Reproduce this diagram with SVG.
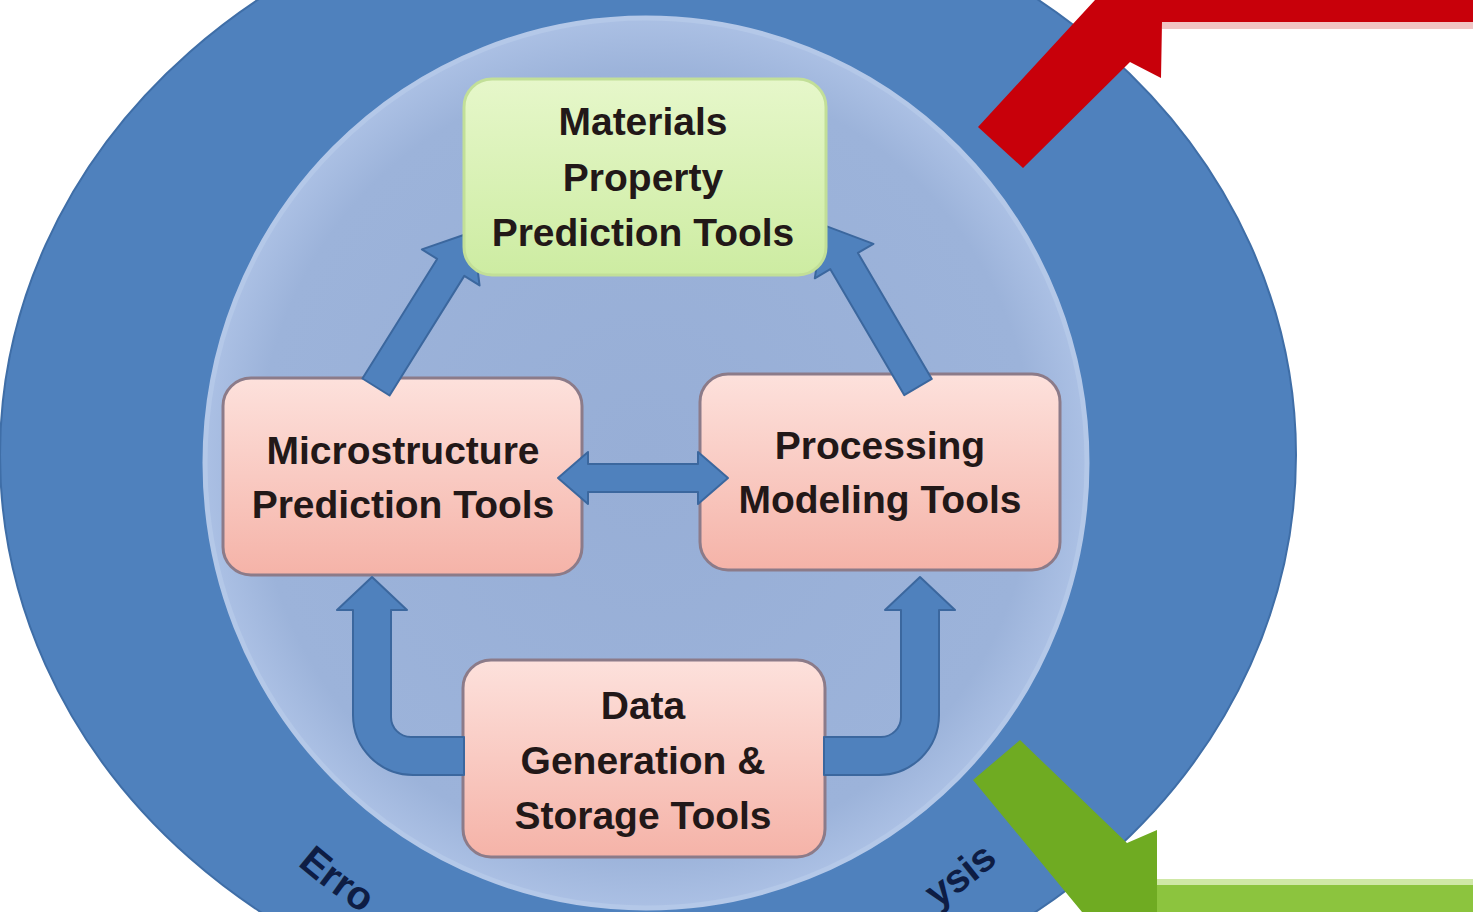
<svg xmlns="http://www.w3.org/2000/svg" width="1473" height="912" viewBox="0 0 1473 912">
<defs>
<radialGradient id="innerFill" cx="0.5" cy="0.5" r="0.5">
<stop offset="0" stop-color="#97aed6"/>
<stop offset="0.88" stop-color="#9cb3da"/>
<stop offset="1" stop-color="#abc0e4"/>
</radialGradient>
<linearGradient id="pinkFill" x1="0" y1="0" x2="0" y2="1">
<stop offset="0" stop-color="#fde1dc"/>
<stop offset="1" stop-color="#f5b3a8"/>
</linearGradient>
<linearGradient id="greenFill" x1="0" y1="0" x2="0" y2="1">
<stop offset="0" stop-color="#e6f7ca"/>
<stop offset="1" stop-color="#cdeca2"/>
</linearGradient>
<path id="ring" d="M 114 463 A 532 532 0 0 0 1178 463"/>
</defs>
<style>
.lbl { font-family: "Liberation Sans", Arial, sans-serif; font-weight: bold; font-size: 39px; text-anchor: middle; fill: #221818; }
.ringtxt { font-family: "Liberation Sans", Arial, sans-serif; font-weight: bold; font-size: 40px; fill: #0e1d44; }
.arrow { fill: #4f81bd; stroke: #3b679e; stroke-width: 2; stroke-linejoin: round; }
.pink { fill: url(#pinkFill); stroke: #8c7b89; stroke-width: 3; }
.green { fill: url(#greenFill); stroke: #c2df98; stroke-width: 3; }
</style>
<rect x="0" y="0" width="1473" height="912" fill="#ffffff"/>
<g id="outer-ring">
<ellipse cx="648" cy="455" rx="648" ry="570" fill="#4f81bd" stroke="#3f6ea7" stroke-width="2"/>
</g>
<g id="inner-circle">
<ellipse cx="646" cy="463" rx="441" ry="445" fill="url(#innerFill)" stroke="#b4c8e8" stroke-width="5"/>
</g>
<g id="ring-labels">
<text class="ringtxt"><textPath href="#ring" startOffset="455">Erro</textPath></text>
<text class="ringtxt" text-anchor="end"><textPath href="#ring" startOffset="1221">ysis</textPath></text>
</g>
<g id="red-arrow">
<polygon points="978,127 1095,0 1473,0 1473,22 1162,22 1161,78 1130,62 1023,168" fill="#c8000a"/>
<rect x="1162" y="22" width="311" height="7" fill="#f1c4c4"/>
</g>
<g id="green-arrow">
<polygon points="973,780 1020,740 1127,843 1157,830 1157,884 1473,884 1473,912 1082,912" fill="#6fab22"/>
<rect x="1157" y="879" width="316" height="6" fill="#cfe8a6"/>
<rect x="1157" y="885" width="316" height="27" fill="#8cc43e"/>
</g>
<g id="microstructure">
<rect class="pink" x="223" y="378" width="359" height="197" rx="28" ry="28"/>
<text class="lbl" x="403" y="464">Microstructure</text>
<text class="lbl" x="403" y="518">Prediction Tools</text>
</g>
<g id="processing">
<rect class="pink" x="700" y="374" width="360" height="196" rx="28" ry="28"/>
<text class="lbl" x="880" y="459">Processing</text>
<text class="lbl" x="880" y="513">Modeling Tools</text>
</g>
<g id="data-storage">
<rect class="pink" x="463" y="660" width="362" height="197" rx="28" ry="28"/>
<text class="lbl" x="643" y="719">Data</text>
<text class="lbl" x="643" y="774">Generation &amp;</text>
<text class="lbl" x="643" y="829">Storage Tools</text>
</g>
<g id="connectors">
<polygon class="arrow" transform="translate(376,387) rotate(-58)" points="0,-16 141,-16 141,-34 183,0 141,34 141,16 0,16"/>
<polygon class="arrow" transform="translate(918,387) rotate(-120.4)" points="0,-16 146,-16 146,-34 188,0 146,34 146,16 0,16"/>
<polygon class="arrow" points="558,478 588,452 588,464 698,464 698,452 728,478 698,504 698,492 588,492 588,504"/>
<path class="arrow" d="M 464 737 H 411 A 20 20 0 0 1 391 717 V 610 H 407 L 372 577 L 337 610 H 353 V 715 A 60 60 0 0 0 413 775 H 464 Z"/>
<path class="arrow" d="M 824 737 H 881 A 20 20 0 0 0 901 717 V 610 H 885 L 920 577 L 955 610 H 939 V 715 A 60 60 0 0 1 879 775 H 824 Z"/>
</g>
<g id="materials-property">
<rect class="green" x="464" y="79" width="362" height="196" rx="28" ry="28"/>
<text class="lbl" x="643" y="135">Materials</text>
<text class="lbl" x="643" y="191">Property</text>
<text class="lbl" x="643" y="246">Prediction Tools</text>
</g>
</svg>
